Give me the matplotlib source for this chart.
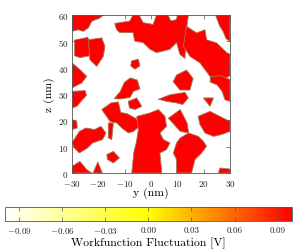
import matplotlib
matplotlib.use('Agg')
import matplotlib.pyplot as plt
from matplotlib.collections import PolyCollection
from matplotlib.colors import LinearSegmentedColormap, Normalize
import numpy as np

plt.rcParams['font.family'] = 'cmr10'
plt.rcParams['mathtext.fontset'] = 'cm'
plt.rcParams['axes.formatter.use_mathtext'] = True

# red grains (y, z in nm)
grain_polys = [
    # upper half
    [(-30, 60), (-18, 60), (-19.4, 58.9), (-22.5, 57.6), (-23.8, 55.1), (-25.7, 53.8), (-27.6, 54.4), (-30, 53.8)],
    [(-29, 50.5), (-24, 51.5), (-22.5, 48), (-23.4, 44.5), (-26.9, 43.8), (-29, 44.5)],
    [(-23.8, 50.6), (-18.7, 51.3), (-17.5, 48.1), (-18.1, 44.3), (-20.6, 40.5), (-23.2, 43)],
    [(-30, 41.8), (-26.9, 39.2), (-24.4, 36.7), (-26.3, 34.2), (-30, 32.3)],
    [(-14, 28.2), (-11.7, 30.9), (-10.1, 34.4), (-7.9, 36.1), (-5.2, 35.3), (-4.2, 31.9), (-6.7, 31), (-7.9, 28.7), (-11.7, 28.1)],
    [(-7.3, 42.6), (-4.8, 43.2), (-4.2, 40.7), (-6.1, 39.4), (-7.7, 40.7)],
    [(-13.8, 56.8), (-8.1, 57.7), (-6.8, 60), (-4.5, 60), (-3, 57.1), (0.8, 56.4), (2.1, 60), (6.5, 60), (7.5, 57.8),
     (9.5, 58.2), (10.2, 60), (14.2, 60), (13.5, 54.5), (12.9, 43.5), (11, 45), (9.7, 49.5), (7.2, 47), (4.6, 46.3),
     (2.1, 45.7), (-0.4, 47), (-3, 49.5), (-6.2, 50.1), (-6.8, 53.3), (-11.9, 53.3), (-13.1, 54.5)],
    [(13.5, 55.7), (17.3, 53.2), (20.5, 54.4), (21.1, 50.6), (24.9, 49.4), (28.8, 45.7), (30, 45.1), (30, 36.9),
     (27.5, 35.6), (24.9, 35.4), (22.4, 36.7), (18.6, 41.8), (14.8, 44.3), (12.3, 48.1)],
    [(24.5, 60), (30, 60), (30, 50), (28.5, 51), (27.5, 53.5), (26, 56)],
    [(9.7, 37.2), (13.5, 39.1), (16, 35.9), (14.8, 31.5), (11, 31.5), (8.4, 34.7)],
    [(22.5, 36.5), (26.5, 37), (30, 35.5), (30, 27.2), (28.1, 27.8), (27, 31), (25, 33.5), (22.5, 34.5)],
    # lower half
    [(-30, 31), (-25, 31.3), (-24.5, 29.5), (-26.3, 27.5), (-28.2, 25.3), (-30, 24.7)],
    [(-30, 20.3), (-28.2, 19.6), (-28, 17.1), (-30, 16.5)],
    [(-18.7, 24.1), (-15.2, 26.6), (-12.4, 27), (-11.5, 23), (-9, 22.5), (-5.4, 20.5), (-4.2, 17.7), (-6.7, 15.8),
     (-8.6, 15.2), (-11.1, 17.1), (-13, 19), (-15.5, 19.5)],
    [(-16.2, 19), (-14.3, 19), (-14.9, 12.7), (-16.2, 13.3)],
    [(-8.6, 27.2), (-5.4, 28.5), (-3.5, 25.3), (-6.1, 24.1), (-8.2, 24.7)],
    [(-30, 11.5), (-27.2, 15.8), (-24.7, 17.1), (-21.5, 16.5), (-19, 17.7), (-17.1, 15.2), (-18.4, 12.7), (-22.2, 11.4),
     (-24.1, 9.5), (-27.2, 7.6), (-29.1, 9.5)],
    [(-30, 0), (-30, 2.5), (-27, 4.4), (-24.4, 1.3), (-22.5, 0)],
    [(-22, 0), (-20.2, 4.2), (-18.5, 0)],
    [(-16.8, 7), (-14.3, 8.2), (-12, 5.7), (-14.3, 3.8), (-16.5, 5.1)],
    [(-5.4, 21.5), (-0.4, 22.8), (2.8, 24.1), (5.3, 21.5), (5.9, 17.7), (3.4, 15.2), (4.7, 12.7), (7.2, 11.4), (5.9, 8.9),
     (3.4, 7.6), (4.1, 0), (-7.3, 0), (-6.5, 8), (-5.5, 12), (-4.8, 16.5)],
    [(2.8, 28), (7.2, 29.7), (12.9, 30.6), (14.2, 28.5), (12, 26), (9.7, 26.6), (5.9, 27.2)],
    [(19.9, 28.5), (23.7, 28.5), (22.4, 25.3)],
    [(6.6, 20.8), (11.1, 24.1), (13.7, 19), (14.3, 15.2), (11.1, 15.8)],
    [(17.9, 21.5), (22.4, 23.4), (27.5, 20.8), (30, 19.6), (30, 15.8), (26.8, 14.6), (23.7, 13.9), (20.5, 15.2), (18.6, 18.4)],
    [(11.1, 13.3), (14.3, 15.2), (18, 13.9), (19.9, 12), (21.1, 10.1), (19.2, 7.6), (16.7, 5.1), (15.4, 0), (9.7, 0),
     (9.7, 5.1), (8.5, 7.6), (9.7, 11.4)],
    [(26.2, 1.9), (30, 1.5), (30, 0), (25.6, 0)],
]
grain_values = [0.1] * len(grain_polys)
background_value = -0.1

cbar_ticks = [-0.09, -0.06, -0.03, 0.00, 0.03, 0.06, 0.09]
vmin, vmax = -0.1, 0.1

cmap = LinearSegmentedColormap.from_list('wf', ['#ffffff', '#ffff00', '#ff0000'])
norm = Normalize(vmin=vmin, vmax=vmax)

fig = plt.figure(figsize=(2.97, 2.53), dpi=100)
ax = fig.add_axes([0.2424, 0.3123, 0.532, 0.6245])
ax.set_facecolor(cmap(norm(background_value)))

pc = PolyCollection(grain_polys, array=np.array(grain_values), cmap=cmap, norm=norm,
                    edgecolors='#a07a55', linewidths=0.6)
ax.add_collection(pc)

ax.set_xlim(-30, 30)
ax.set_ylim(0, 60)
ax.set_xticks([-30, -20, -10, 0, 10, 20, 30])
ax.set_yticks([0, 10, 20, 30, 40, 50, 60])
ax.tick_params(direction='in', top=True, right=True, length=3, width=0.5,
               labelsize=6.5, colors='#555555', labelcolor='#222222')
ax.tick_params(axis='x', pad=3.5)
ax.tick_params(axis='y', pad=2.5)
for s in ax.spines.values():
    s.set_color('#555555')
    s.set_linewidth(0.6)
ax.set_xlabel('y (nm)', fontsize=8.5, labelpad=-1)
ax.set_ylabel('z (nm)', fontsize=8.5, labelpad=2)

cax = fig.add_axes([0.0168, 0.1225, 0.966, 0.0553])
cb = fig.colorbar(pc, cax=cax, orientation='horizontal', ticks=cbar_ticks)
cb.ax.set_xticklabels(['%.2f' % t if t >= 0 else '$-$%.2f' % abs(t) for t in cbar_ticks])
cb.ax.tick_params(direction='in', top=True, bottom=True, length=3, width=0.5,
                  labelsize=6.5, colors='#555555', labelcolor='#222222', pad=3)
cb.outline.set_linewidth(0.6)
cb.outline.set_edgecolor('#555555')
cb.set_label('Workfunction Fluctuation [V]', fontsize=8.5, labelpad=1)

fig.savefig('out.png', dpi=100)
